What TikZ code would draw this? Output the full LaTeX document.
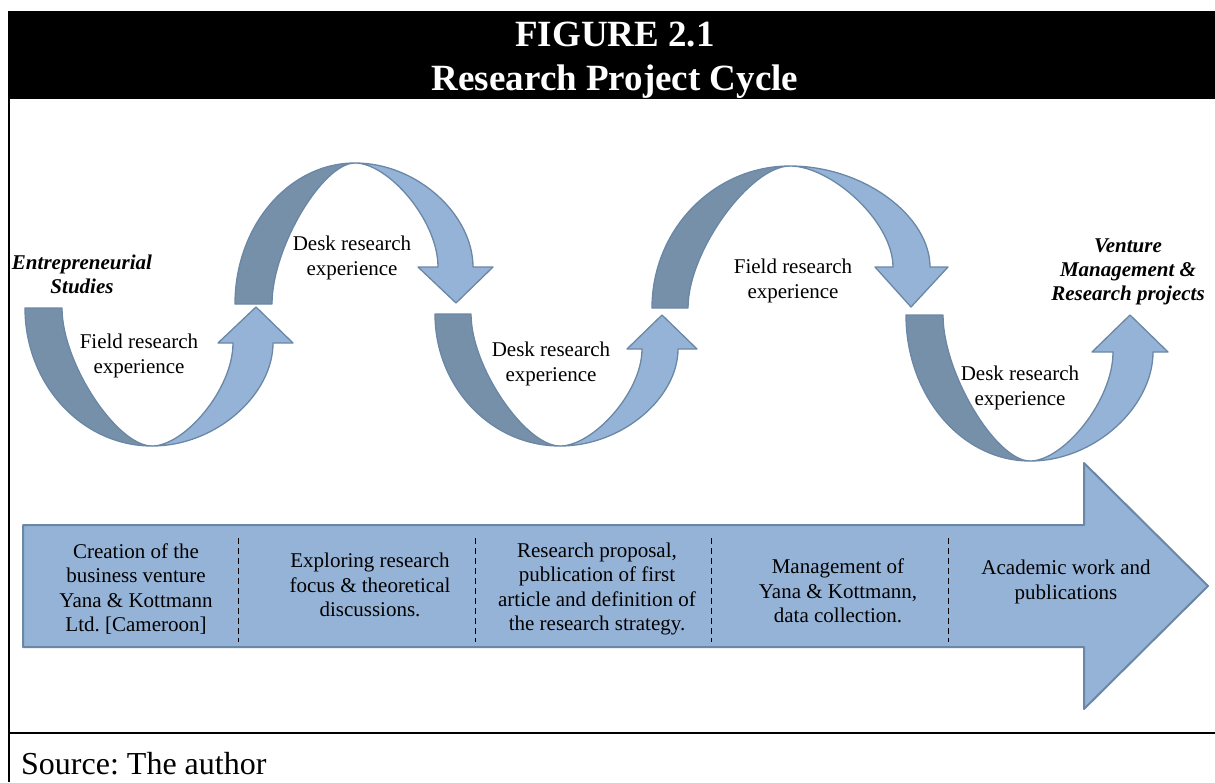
\documentclass[tikz,border=0pt]{standalone}
\usepackage{fontspec}
\setmainfont{Liberation Serif}
\usetikzlibrary{calc}
\frenchspacing
\definecolor{lightband}{HTML}{95B3D7}
\definecolor{darkband}{HTML}{7690AA}
\definecolor{bandedge}{HTML}{6A87A5}
\tikzset{
  darkpart/.style={fill=darkband, draw=bandedge, line width=1.3pt, line join=round},
  lightpart/.style={fill=lightband, draw=bandedge, line width=1.3pt, line join=round},
  lbl/.style={align=center, inner sep=0pt, font=\fontsize{21}{25}\selectfont},
  endlbl/.style={align=center, inner sep=0pt, font=\fontsize{21}{24}\selectfont\bfseries\itshape},
  coltext/.style={align=center, inner sep=0pt, font=\fontsize{21}{24.5}\selectfont},
  divider/.style={line width=1pt, dash pattern=on 6pt off 4pt},
  frameline/.style={line width=2.5pt}
}
\newcommand\ribbonarrow[9]{%
  \coordinate (#1-Lo) at (#2);
  \coordinate (#1-Li) at (#3);
  \coordinate (#1-B) at (#4);
  \coordinate (#1-So) at (#5);
  \coordinate (#1-Si) at (#6);
  \coordinate (#1-Hl) at (#7);
  \coordinate (#1-Hr) at (#8);
  \coordinate (#1-T) at (#9);
  \coordinate (#1-Co) at (#1-Lo |- #1-B);
  \coordinate (#1-Ci) at (#1-Li |- #1-B);
  \coordinate (#1-Ko) at (#1-So |- #1-B);
  \coordinate (#1-Ki) at (#1-Si |- #1-B);
  \filldraw[darkpart] (#1-Lo) .. controls ($(#1-Lo)!.552!(#1-Co)$) and ($(#1-B)!.552!(#1-Co)$) .. (#1-B)
     .. controls ($(#1-B)!.39!(#1-Ci)$) and ($(#1-Li)!.4!(#1-Ci)$) .. (#1-Li) -- cycle;
  \filldraw[lightpart] (#1-B) .. controls ($(#1-B)!.53!(#1-Ko)$) and ($(#1-So)!.5!(#1-Ko)$) .. (#1-So)
     -- (#1-Hr) -- (#1-T) -- (#1-Hl) -- (#1-Si)
     .. controls ($(#1-Si)!.45!(#1-Ki)$) and ($(#1-B)!.4!(#1-Ki)$) .. (#1-B) -- cycle;
}
\begin{document}
\begin{tikzpicture}[x=1pt, y=-1pt]
\useasboundingbox (0,0) rectangle (1215,782);
% frame
\fill[black] (8,11) rectangle (1215,99);
\draw[frameline] (9,99) -- (9,782);
\draw[frameline] (8,733) -- (1215,733);
\node[align=center, text=white, inner sep=0pt, font=\fontsize{37}{44}\selectfont\bfseries] (title) at (615,60.5) {FIGURE 2.1\\Research Project Cycle};
\node[anchor=west, inner sep=0pt, font=\fontsize{32}{38}\selectfont] (source) at (21,764) {Source: The author};

% big timeline arrow
\filldraw[lightpart, line width=2pt] (23,525) -- (1084,525) -- (1084,463) -- (1208,586) -- (1084,709) -- (1084,647) -- (23,647) -- cycle;
\foreach \x in {238,475,711,948} \draw[divider] (\x,538) -- (\x,642);
\node[coltext] (c1) at (136,589) {Creation of the\\business venture\\Yana \& Kottmann\\Ltd. [Cameroon]};
\node[coltext] (c2) at (370,585) {Exploring research\\focus \& theoretical\\discussions.};
\node[coltext] (c3) at (597,589) {Research proposal,\\publication of first\\article and definition of\\the research strategy.};
\node[coltext] (c4) at (838,591) {Management of\\Yana \& Kottmann,\\data collection.};
\node[coltext] (c5) at (1066,582) {Academic work and\\publications};

% ribbon arrows
\ribbonarrow{a}{25,308}{62,308}{152,446}{273,343}{233,343}{218,343}{293,343}{256,307}
\ribbonarrow{b}{235,304}{272,304}{355,163}{473,267}{438,267}{418,267}{493,267}{456,303}
\ribbonarrow{c}{435,314}{471,314}{560,446}{678,349}{642,349}{627,349}{697,349}{662,315}
\ribbonarrow{d}{652,308}{688,308}{790,166}{930,267}{893,267}{875,267}{948,267}{911,307}
\ribbonarrow{e}{906,315}{943,315}{1030,461}{1153,352}{1113,352}{1092,352}{1168,352}{1130,315}

% labels
\node[endlbl] (start) at (82,274) {Entrepreneurial\\Studies};
\node[endlbl] (finish) at (1128,272) {Venture\\Management \&\\Research projects};
\node[lbl] (l1) at (139,356) {Field research\\experience};
\node[lbl] (l2) at (352,258) {Desk research\\experience};
\node[lbl] (l3) at (551,364) {Desk research\\experience};
\node[lbl] (l4) at (793,281) {Field research\\experience};
\node[lbl] (l5) at (1020,388) {Desk research\\experience};
\end{tikzpicture}
\end{document}
